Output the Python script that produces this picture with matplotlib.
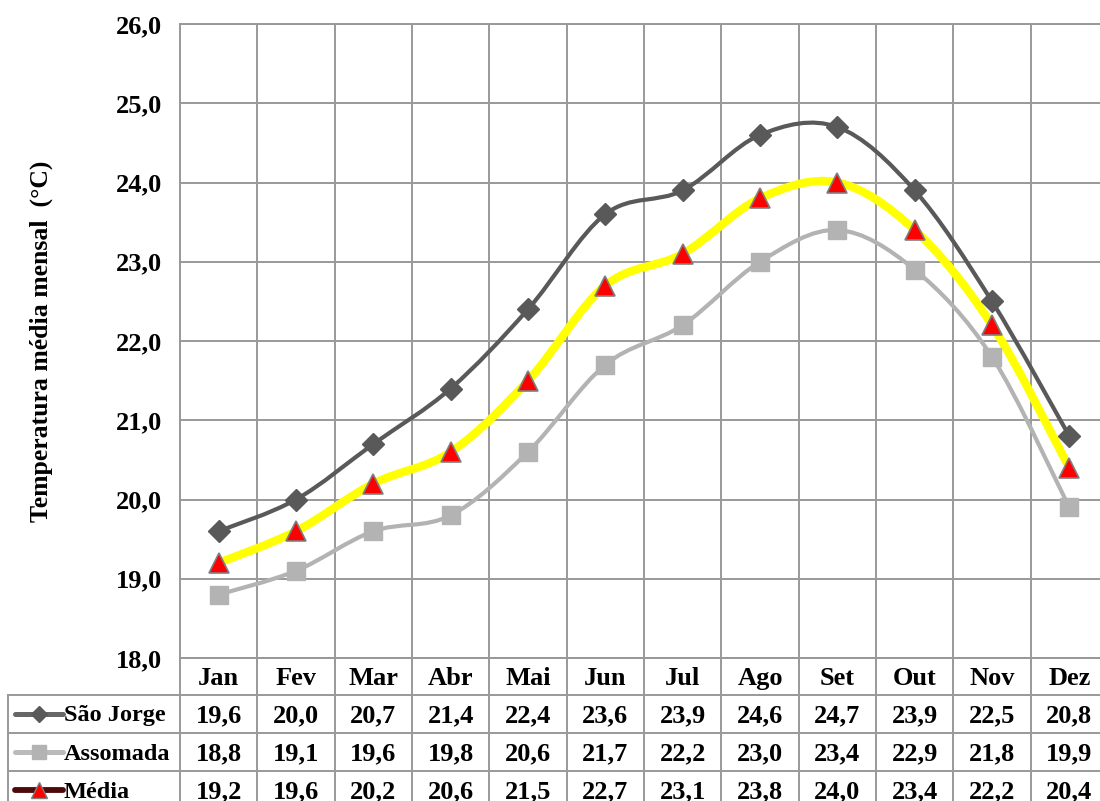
import numpy as np
import matplotlib
matplotlib.use("Agg")
import matplotlib.pyplot as plt
from matplotlib.path import Path
from matplotlib.patches import PathPatch
from matplotlib.lines import Line2D

plt.rcParams['font.family'] = ['Liberation Serif', 'DejaVu Serif']
plt.rcParams['font.weight'] = 'bold'

months = ["Jan", "Fev", "Mar", "Abr", "Mai", "Jun", "Jul", "Ago", "Set", "Out", "Nov", "Dez"]
sao_jorge = [19.6, 20.0, 20.7, 21.4, 22.4, 23.6, 23.9, 24.6, 24.7, 23.9, 22.5, 20.8]
assomada = [18.8, 19.1, 19.6, 19.8, 20.6, 21.7, 22.2, 23.0, 23.4, 22.9, 21.8, 19.9]
media = [19.2, 19.6, 20.2, 20.6, 21.5, 22.7, 23.1, 23.8, 24.0, 23.4, 22.2, 20.4]
series_names = ["São Jorge", "Assomada", "Média"]
yticks = [18.0, 19.0, 20.0, 21.0, 22.0, 23.0, 24.0, 25.0, 26.0]
ylabel = "Temperatura média mensal  (°C)"

W, H = 1100, 801
fig = plt.figure(figsize=(W / 100, H / 100), dpi=100)

grid_c = "#999999"
FS = 19

# plot area in pixel coordinates
left_px, right_px, top_px, bot_px = 180, 1108, 24, 658
ax = fig.add_axes([left_px / W, 1 - bot_px / H, (right_px - left_px) / W, (bot_px - top_px) / H])
ax.set_xlim(-0.5, len(months) - 0.5)
ax.set_ylim(18.0, 26.0)
ax.set_yticks(yticks)
ax.set_yticklabels([f"{v:.1f}".replace(".", ",") for v in yticks], fontsize=FS, fontweight='bold')
ax.set_xticks(np.arange(len(months)) - 0.5, minor=False)
ax.set_xticklabels([])
ax.tick_params(axis='both', length=0)
ax.tick_params(axis='y', pad=13)
for y in yticks:
    ax.axhline(y, color=grid_c, lw=1.4, zorder=1)
for i in range(len(months) + 1):
    ax.axvline(i - 0.5, color=grid_c, lw=1.4, zorder=1)
for s in ax.spines.values():
    s.set_color(grid_c)
    s.set_linewidth(1.4)
ax.set_ylabel(ylabel, fontsize=18.5, fontweight='bold', labelpad=45)


def smooth_path(xs, ys):
    pts = np.column_stack([xs, ys]).astype(float)
    n = len(pts)
    verts = [pts[0]]
    codes = [Path.MOVETO]
    for i in range(n - 1):
        p0 = pts[i - 1] if i > 0 else pts[i]
        p1 = pts[i]
        p2 = pts[i + 1]
        p3 = pts[i + 2] if i + 2 < n else pts[i + 1]
        c1 = p1 + (p2 - p0) / 6.0
        c2 = p2 - (p3 - p1) / 6.0
        verts += [c1, c2, p2]
        codes += [Path.CURVE4] * 3
    return Path(verts, codes)


x = np.arange(len(months))
styles = [
    dict(data=sao_jorge, color="#595959", lw=3.0, marker="D", ms=11.5, mfc="#595959", mec="#595959", mew=1.0, key="#666666"),
    dict(data=assomada, color="#B3B3B3", lw=3.0, marker="s", ms=13, mfc="#B3B3B3", mec="#B3B3B3", mew=1.0, key="#BBBBBB"),
    dict(data=media, color="#FFFF00", lw=6.0, marker="^", ms=15, mfc="#FF0000", mec="#7F7F7F", mew=1.2, key="#4D0A0A"),
]
for z, st in enumerate(styles):
    ax.add_patch(PathPatch(smooth_path(x, st["data"]), facecolor="none", edgecolor=st["color"],
                           lw=st["lw"], zorder=3 + z, capstyle='round', joinstyle='round'))
    ax.plot(x, st["data"], linestyle="none", marker=st["marker"], ms=st["ms"], mfc=st["mfc"],
            mec=st["mec"], mew=st["mew"], zorder=6 + z, clip_on=False)

# data table beneath the plot
tab = fig.add_axes([0, 0, 1, 1], zorder=-1)
tab.set_xlim(0, W)
tab.set_ylim(H, 0)
tab.axis("off")
colw = (right_px - left_px) / len(months)
row_lines = [bot_px, 695, 733, 771]
tab_left = 8
tab.plot([left_px, W], [bot_px, bot_px], color=grid_c, lw=1.4)
for y in row_lines[1:]:
    tab.plot([tab_left, W], [y, y], color=grid_c, lw=1.4)
tab.plot([tab_left, tab_left], [row_lines[1], H], color=grid_c, lw=1.4)
for i in range(len(months) + 1):
    xx = left_px + i * colw
    tab.plot([xx, xx], [bot_px, H], color=grid_c, lw=1.4)

for i, m in enumerate(months):
    cx = left_px + (i + 0.5) * colw
    tab.text(cx, (row_lines[0] + row_lines[1]) / 2 + 2, m, ha="center", va="center", fontsize=FS, fontweight='bold')

row_centers = [714, 752, 790]
for r, (name, st) in enumerate(zip(series_names, styles)):
    yc = row_centers[r]
    tab.add_line(Line2D([15, 63], [yc, yc], color=st["key"], lw=3.6 if r < 2 else 4.2, solid_capstyle='round'))
    tab.add_line(Line2D([39], [yc], marker=st["marker"], ms=st["ms"] * 0.75, mfc=st["mfc"], mec=st["mec"], mew=1.0,
                        linestyle="none"))
    tab.text(64, yc + 2, name, ha="left", va="center", fontsize=17.5, fontweight='bold')
    for i, v in enumerate(st["data"]):
        cx = left_px + (i + 0.5) * colw
        tab.text(cx, yc + 2, f"{v:.1f}".replace(".", ","), ha="center", va="center", fontsize=FS, fontweight='bold')

fig.savefig("out.png", dpi=100)
